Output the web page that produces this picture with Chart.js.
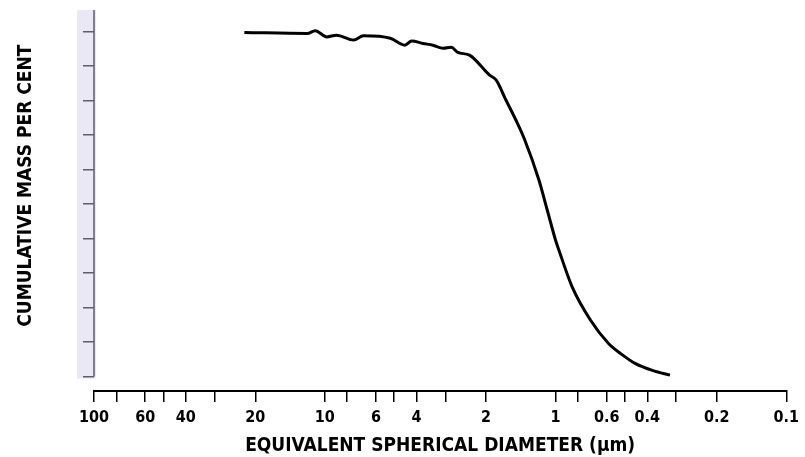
<!DOCTYPE html>
<html>
<head>
<meta charset="utf-8">
<script src="https://cdn.jsdelivr.net/npm/chart.js@4/dist/chart.umd.min.js"></script>
<style>
html, body { margin: 0; padding: 0; background: #fff; }
#wrap { width: 805px; height: 457px; }
</style>
</head>
<body>
<div id="wrap"><canvas id="psdChart"></canvas></div>
<script>
// equivalent spherical diameter (um) and cumulative mass per cent
const diameters = [22.3, 11.9, 11.0, 9.8, 8.9, 7.5, 6.8, 5.2, 4.5, 4.2, 3.75, 3.4, 3.07, 2.83, 2.65, 2.36, 1.93, 1.81, 1.64, 1.485, 1.368, 1.18, 1.086, 1.0, 0.967, 0.847, 0.706, 0.589, 0.518, 0.452, 0.377, 0.319];
const massPercent = [99.8, 99.5, 100.3, 98.5, 99.0, 97.6, 98.8, 98.1, 96.1, 97.3, 96.6, 96.1, 95.2, 95.5, 94.0, 93.2, 87.4, 86.0, 80.2, 74.4, 69.1, 57.0, 48.3, 39.6, 36.7, 26.0, 16.4, 9.6, 6.5, 3.8, 1.7, 0.4];

const xTickValues = [100, 80, 60, 50, 40, 30, 20, 10, 8, 6, 5, 4, 3, 2, 1, 0.8, 0.6, 0.5, 0.4, 0.3, 0.2, 0.1];
const xTickLabels = [100, 60, 40, 20, 10, 6, 4, 2, 1, 0.6, 0.4, 0.2, 0.1];
const yTickValues = [0, 10, 20, 30, 40, 50, 60, 70, 80, 90, 100];

const FONT = "'Liberation Sans Narrow', 'DejaVu Sans Condensed', sans-serif";

// lavender strip and grey y axis line, which stops at 0 like the original
const axisBand = {
  id: 'axisBand',
  beforeDraw(chart) {
    const { ctx, chartArea, scales } = chart;
    const x0 = chartArea.left;
    const yTop = chartArea.top;
    const yBot = scales.y.getPixelForValue(0);
    ctx.save();
    ctx.fillStyle = '#ebe8f6';
    ctx.fillRect(x0 - 17, yTop, 19, yBot - yTop + 2);
    ctx.strokeStyle = '#5e5e66';
    ctx.lineWidth = 1.5;
    ctx.beginPath();
    ctx.moveTo(x0, yTop);
    ctx.lineTo(x0, yBot);
    ctx.stroke();
    ctx.restore();
  }
};

const ctx = document.getElementById('psdChart').getContext('2d');
new Chart(ctx, {
  type: 'line',
  data: {
    datasets: [{
      data: diameters.map((d, i) => ({ x: d, y: massPercent[i] })),
      borderColor: '#000',
      borderWidth: 3,
      pointRadius: 0,
      fill: false,
      cubicInterpolationMode: 'monotone'
    }]
  },
  options: {
    responsive: true,
    maintainAspectRatio: false,
    animation: false,
    layout: { padding: { top: 10, right: 16, left: 0, bottom: 0 } },
    plugins: {
      legend: { display: false },
      tooltip: { enabled: false }
    },
    scales: {
      x: {
        type: 'logarithmic',
        reverse: true,
        min: 0.1,
        max: 100,
        afterBuildTicks: s => { s.ticks = xTickValues.map(v => ({ value: v })); },
        afterFit: s => { s.height = 66; },
        border: { display: true, color: '#000', width: 2 },
        grid: { drawOnChartArea: false, drawTicks: true, tickLength: 11, color: '#000', lineWidth: 1.5 },
        ticks: {
          autoSkip: false,
          maxRotation: 0,
          padding: 6,
          color: '#000',
          font: { family: FONT, size: 16, weight: 'bold' },
          callback: v => xTickLabels.includes(v) ? String(v) : ''
        },
        title: {
          display: true,
          text: 'EQUIVALENT SPHERICAL DIAMETER (\u00b5m)',
          color: '#000',
          font: { family: FONT, size: 19, weight: 'bold' },
          padding: { top: 0, bottom: 0 }
        }
      },
      y: {
        min: -4.2,
        max: 106.3,
        afterBuildTicks: s => { s.ticks = yTickValues.map(v => ({ value: v })); },
        afterFit: s => { s.width = 94; },
        border: { display: false },
        grid: { drawOnChartArea: false, drawTicks: true, tickLength: 11, color: '#5e5e66', lineWidth: 1.5 },
        ticks: { display: false },
        title: {
          display: true,
          text: '     CUMULATIVE MASS PER CENT',
          color: '#000',
          font: { family: FONT, size: 19, weight: 'bold' },
          padding: { top: 15, bottom: 0 }
        }
      }
    }
  },
  plugins: [axisBand]
});
</script>
</body>
</html>
